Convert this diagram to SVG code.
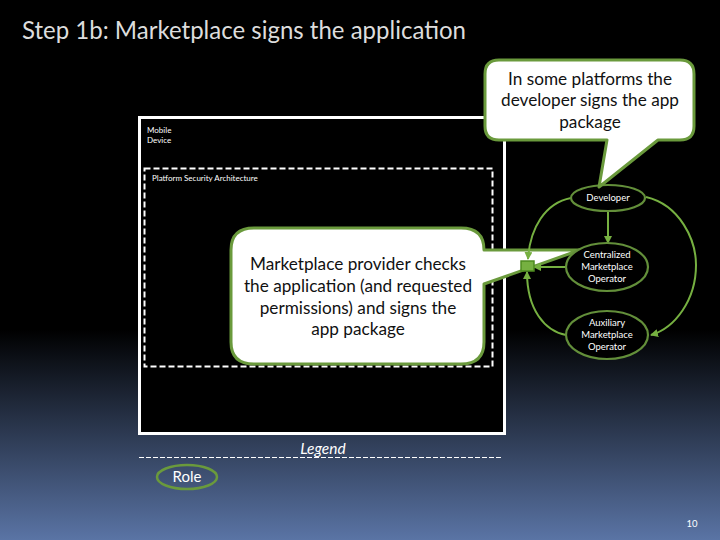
<svg xmlns="http://www.w3.org/2000/svg" width="720" height="540" viewBox="0 0 720 540">
<style>
text{font-family:"Lato","Liberation Sans",sans-serif;text-anchor:middle}
.role{fill:#000;stroke:#638f3a;stroke-width:2.2}
.rt{fill:#fff;font-size:9.5px}
.call{fill:#fff;stroke:#6a9a3c;stroke-width:3;stroke-linejoin:round}
.ct{fill:#111;font-size:17.2px}
.cn{fill:none;stroke:#76b041;stroke-width:2}
.sm{fill:#fff;font-size:8px;text-anchor:start}
</style>
<defs>
<linearGradient id="bg" x1="0" y1="0" x2="0" y2="1">
<stop offset="0" stop-color="#000"/><stop offset="0.61" stop-color="#000"/><stop offset="1" stop-color="#5a74a5"/>
</linearGradient>
<marker id="a" markerWidth="8" markerHeight="8" refX="7" refY="4" orient="auto" markerUnits="userSpaceOnUse"><path d="M0 0L8 4L0 8Z" fill="#76b041"/></marker>
</defs>
<rect width="720" height="540" fill="url(#bg)"/>
<text x="244" y="39" style="font-size:25.5px;fill:#ddd" textLength="444" lengthAdjust="spacingAndGlyphs">Step 1b: Marketplace signs the application</text>
<g id="mobile-device">
<rect x="139.500" y="117.500" width="365" height="316" fill="#000" stroke="#fff" stroke-width="3"/>
<text class="sm" x="147" y="133">Mobile</text><text class="sm" x="147" y="143">Device</text>
</g>
<g id="platform-security">
<rect x="144.500" y="168.500" width="348" height="198" fill="none" stroke="#fff" stroke-width="2" stroke-dasharray="6 3"/>
<text class="sm" x="152" y="181">Platform Security Architecture</text>
</g>
<g id="marketplace-callout">
<path class="call" d="M254 228H461Q484 228 484 250H580L484 284V342Q484 364 461 364H254Q231 364 231 342V250Q231 228 254 228Z"/>
<text class="ct" x="358" y="270">Marketplace provider checks</text>
<text class="ct" x="358" y="292">the application (and requested</text>
<text class="ct" x="358" y="314">permissions) and signs the</text>
<text class="ct" x="358" y="335">app package</text>
</g>
<g id="connectors">
<path class="cn" d="M571 198C545 203 530 228 528 259" marker-end="url(#a)"/>
<path class="cn" d="M646 197C680 205 696 240 696 265C696 300 675 328 651 335" marker-end="url(#a)"/>
<path class="cn" d="M608 211V243" marker-end="url(#a)"/>
<path class="cn" d="M566 267H534" marker-end="url(#a)"/>
<path class="cn" d="M566 335C545 331 527 310 527 272" marker-end="url(#a)"/>
</g>
<g id="policy-check"><rect x="521" y="261" width="13" height="10" fill="#76b041" stroke="#4d8a1f" stroke-width="1.500"/></g>
<g id="developer">
<ellipse class="role" cx="608" cy="198" rx="37" ry="13"/>
<text class="rt" x="608" y="201">Developer</text>
</g>
<g id="centralized">
<ellipse class="role" cx="607" cy="267" rx="41" ry="24"/>
<text class="rt" x="607" y="258">Centralized</text><text class="rt" x="607" y="270">Marketplace</text><text class="rt" x="607" y="282">Operator</text>
</g>
<g id="auxiliary">
<ellipse class="role" cx="607" cy="335" rx="41" ry="24"/>
<text class="rt" x="607" y="326">Auxiliary</text><text class="rt" x="607" y="338">Marketplace</text><text class="rt" x="607" y="350">Operator</text>
</g>
<g id="developer-callout">
<path class="call" d="M499 60H680Q694 60 694 74V126Q694 140 680 140H658L599 187L607 140H499Q485 140 485 126V74Q485 60 499 60Z"/>
<text class="ct" x="590" y="85">In some platforms the</text>
<text class="ct" x="590" y="106">developer signs the app</text>
<text class="ct" x="590" y="128">package</text>
</g>
<g id="legend">
<path d="M139 457.500H501" stroke="#fff" stroke-width="1" stroke-dasharray="5 2"/>
<text x="323" y="454" style="font-size:15.500px;font-style:italic;fill:#fff">Legend</text>
</g>
<g id="role-legend">
<ellipse cx="187" cy="477" rx="30" ry="12" fill="none" stroke="#6a9a3c" stroke-width="2.500"/>
<text x="187" y="482" style="font-size:15px;fill:#fff">Role</text>
</g>
<text x="692" y="527" style="font-size:9.500px;fill:#fff">10</text>
</svg>
